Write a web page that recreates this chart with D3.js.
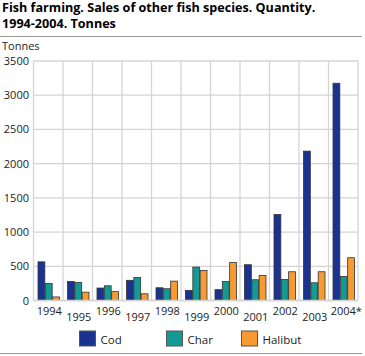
<!DOCTYPE html>
<html><head><meta charset="utf-8">
<script src="https://cdn.jsdelivr.net/npm/d3@7"></script>
<style>body{margin:0;background:#fff}svg{display:block;font-family:"Open Sans",sans-serif}</style>
</head><body>
<script>
const years = ["1994","1995","1996","1997","1998","1999","2000","2001","2002","2003","2004*"];
const seriesNames = ["Cod","Char","Halibut"];
const cod = [565, 278, 182, 295, 186, 148, 158, 523, 1256, 2183, 3175];
const charV = [248, 263, 215, 337, 172, 488, 278, 303, 307, 259, 350];
const halibut = [52, 122, 130, 98, 283, 440, 556, 366, 420, 420, 625];
const yTicks = [0, 500, 1000, 1500, 2000, 2500, 3000, 3500];
const colors = ["#1a3390", "#149995", "#f79a32"];

const W = 365, H = 356;
const svg = d3.select("body").append("svg").attr("width", W).attr("height", H);
const m = {l: 33.5, r: 358, t: 61, b: 300.5};
const x = d3.scaleBand().domain(years).range([m.l, m.r]);
const y = d3.scaleLinear().domain([0, 3500]).range([m.b, m.t]);
const inner = d3.scaleBand().domain(seriesNames).range([4, 26]);

// title
svg.append("text").attr("font-weight", "bold").attr("font-size", 12.6).attr("fill", "#000")
  .attr("x", 2).attr("y", 12).text("Fish farming. Sales of other fish species. Quantity.");
svg.append("text").attr("font-weight", "bold").attr("font-size", 12.6).attr("fill", "#000")
  .attr("x", 2).attr("y", 28).text("1994-2004. Tonnes");
svg.append("line").attr("x1", 0).attr("x2", 362).attr("y1", 36.5).attr("y2", 36.5).attr("stroke", "#999").attr("stroke-width", 1);
svg.append("line").attr("x1", 0).attr("x2", 362).attr("y1", 353.5).attr("y2", 353.5).attr("stroke", "#999").attr("stroke-width", 1);

svg.append("text").attr("x", 2).attr("y", 50).attr("font-size", 11).attr("fill", "#222").text("Tonnes");

// grid
svg.append("g").selectAll("line").data(yTicks).join("line")
  .attr("x1", m.l).attr("x2", m.r).attr("y1", d => y(d)).attr("y2", d => y(d))
  .attr("stroke", "#d4d4d4").attr("stroke-width", 1.3);
const vx = years.map(d => x(d)).concat([m.r]);
svg.append("g").selectAll("line").data(vx).join("line")
  .attr("x1", d => d).attr("x2", d => d).attr("y1", m.t).attr("y2", m.b)
  .attr("stroke", "#d4d4d4").attr("stroke-width", 1.3);

// y labels
svg.append("g").selectAll("text").data(yTicks).join("text")
  .attr("x", 29).attr("y", d => y(d) + 4).attr("text-anchor", "end")
  .attr("font-size", 11).attr("fill", "#222").text(d => d);

// bars
const data = [cod, charV, halibut];
data.forEach((vals, si) => {
  svg.append("g").selectAll("rect").data(vals).join("rect")
    .attr("x", (d, i) => x(years[i]) + inner(seriesNames[si]) + 0.5)
    .attr("width", inner.bandwidth() - 0.5)
    .attr("y", d => y(d))
    .attr("height", d => y(0) - y(d))
    .attr("fill", colors[si]).attr("stroke", "#333").attr("stroke-width", 0.8);
});

// x labels
svg.append("g").selectAll("text").data(years).join("text")
  .attr("x", d => x(d) + x.bandwidth() / 2 + 1 + (d === "2004*" ? 2 : 0))
  .attr("y", (d, i) => i % 2 === 0 ? 314.5 : 321)
  .attr("text-anchor", "middle").attr("font-size", 11).attr("fill", "#222").text(d => d);

// axis baseline
svg.append("line").attr("x1", m.l).attr("x2", m.r).attr("y1", m.b).attr("y2", m.b).attr("stroke", "#d4d4d4").attr("stroke-width", 1.3);

// legend
const lx = [79.5, 166.5, 241.5];
const lg = svg.append("g").selectAll("g").data(seriesNames).join("g")
  .attr("transform", (d, i) => `translate(${lx[i]},331)`);
lg.append("rect").attr("width", 16).attr("height", 15).attr("fill", (d, i) => colors[i]).attr("stroke", "#555").attr("stroke-width", 1);
lg.append("text").attr("x", 21).attr("y", 12.5).attr("font-size", 11.5).attr("fill", "#222").text(d => d);
</script>
</body></html>
